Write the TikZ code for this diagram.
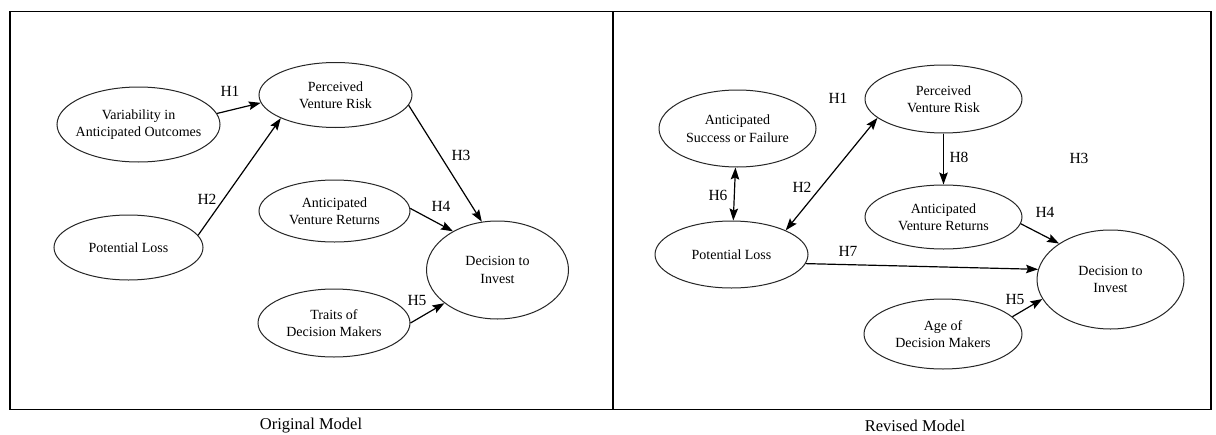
\documentclass[tikz,border=0pt]{standalone}
\usepackage{fontspec}
\setmainfont{Liberation Serif}
\usetikzlibrary{shapes.geometric,arrows.meta}
\begin{document}
\begin{tikzpicture}[x=1pt,y=-1pt,
  ell/.style={ellipse,draw=black!85,line width=1pt,inner sep=0pt},
  txt/.style={align=center,inner sep=0pt,font=\fontsize{14}{17.5}\selectfont},
  lbl/.style={inner sep=0pt,font=\fontsize{15.5}{18}\selectfont},
  captn/.style={inner sep=0pt,font=\fontsize{16.5}{20}\selectfont},
  mytip/.tip={Stealth[length=12pt,width=8.5pt,inset=2pt]},
  arr/.style={line width=1.2pt,-mytip},
  darr/.style={line width=1.2pt,mytip-mytip},
  frameline/.style={line width=1.5pt}
]
\useasboundingbox (0,0) rectangle (1216,434);
\fill[white] (0,0) rectangle (1216,434);

% frames
\draw[frameline] (10,11.5) rectangle (1211,409.5);
\coordinate (divtop) at (613,11.5);
\coordinate (divbot) at (613,409.5);
\draw[frameline] (divtop) -- (divbot);

% ---------------- Original Model ----------------
\node[ell,minimum width=163pt,minimum height=75pt] (var) at (138.5,124.5) {};
\node[txt] (var-t) at (var) {Variability in\\Anticipated Outcomes};
\node[ell,minimum width=153pt,minimum height=65pt] (pvr) at (335.5,95) {};
\node[txt] (pvr-t) at (pvr) {Perceived\\Venture Risk};
\node[ell,minimum width=149pt,minimum height=65pt] (pl) at (128.5,247.5) {};
\node[txt] (pl-t) at (pl) {Potential Loss};
\node[ell,minimum width=151pt,minimum height=62pt] (avr) at (334.5,211) {};
\node[txt] (avr-t) at (avr) {Anticipated\\Venture Returns};
\node[ell,minimum width=142pt,minimum height=98pt] (di) at (497.5,270) {};
\node[txt] (di-t) at (di) {Decision to\\Invest};
\node[ell,minimum width=152pt,minimum height=68pt] (tdm) at (334,323) {};
\node[txt] (tdm-t) at (tdm) {Traits of\\Decision Makers};

\draw[arr] (var.8) -- (pvr.186);
\draw[arr] (pl.10) -- (pvr.203);
\draw[arr] (pvr.352) -- (di.108);
\draw[arr] (avr.2) -- (di.139.5);
\draw[arr] (tdm.0) -- (di.212);

\node[lbl] (h1a) at (230,91) {H1};
\node[lbl] (h2a) at (207,199) {H2};
\node[lbl] (h3a) at (461,155) {H3};
\node[lbl] (h4a) at (441,206) {H4};
\node[lbl] (h5a) at (417,300) {H5};

\node[captn] (capa) at (311,426) {Original Model};

% ---------------- Revised Model ----------------
\node[ell,minimum width=157pt,minimum height=77pt] (asf) at (737.5,128.5) {};
\node[txt] (asf-t) at (asf) {Anticipated\\Success or Failure};
\node[ell,minimum width=157pt,minimum height=68pt] (pvr2) at (943.5,99) {};
\node[txt] (pvr2-t) at (pvr2) {Perceived\\Venture Risk};
\node[ell,minimum width=153pt,minimum height=67pt] (pl2) at (731.5,254.5) {};
\node[txt] (pl2-t) at (pl2) {Potential Loss};
\node[ell,minimum width=157pt,minimum height=64pt] (avr2) at (943.5,217) {};
\node[txt] (avr2-t) at (avr2) {Anticipated\\Venture Returns};
\node[ell,minimum width=147pt,minimum height=99pt] (di2) at (1110.5,279.5) {};
\node[txt] (di2-t) at (di2) {Decision to\\Invest};
\node[ell,minimum width=158pt,minimum height=70pt] (age) at (943,334) {};
\node[txt] (age-t) at (age) {Age of\\Decision Makers};

\draw[darr] (asf.267) -- (pl2.87);
\draw[darr] (pl2.24) -- (pvr2.196);
\draw[arr] (pvr2.south) -- (avr2.north);
\draw[arr] (avr2.355) -- (di2.145);
\draw[arr] (pl2.353) -- (di2.172.6);
\draw[arr] (age.14) -- (di2.196);

\node[lbl] (h1b) at (838,98) {H1};
\node[lbl] (h2b) at (802,187) {H2};
\node[lbl] (h3b) at (1079,158) {H3};
\node[lbl] (h4b) at (1045,212) {H4};
\node[lbl] (h5b) at (1015,299) {H5};
\node[lbl] (h6b) at (718,195) {H6};
\node[lbl] (h7b) at (848,251) {H7};
\node[lbl] (h8b) at (959,157) {H8};

\node[captn] (capb) at (915,426) {Revised Model};
\end{tikzpicture}
\end{document}
